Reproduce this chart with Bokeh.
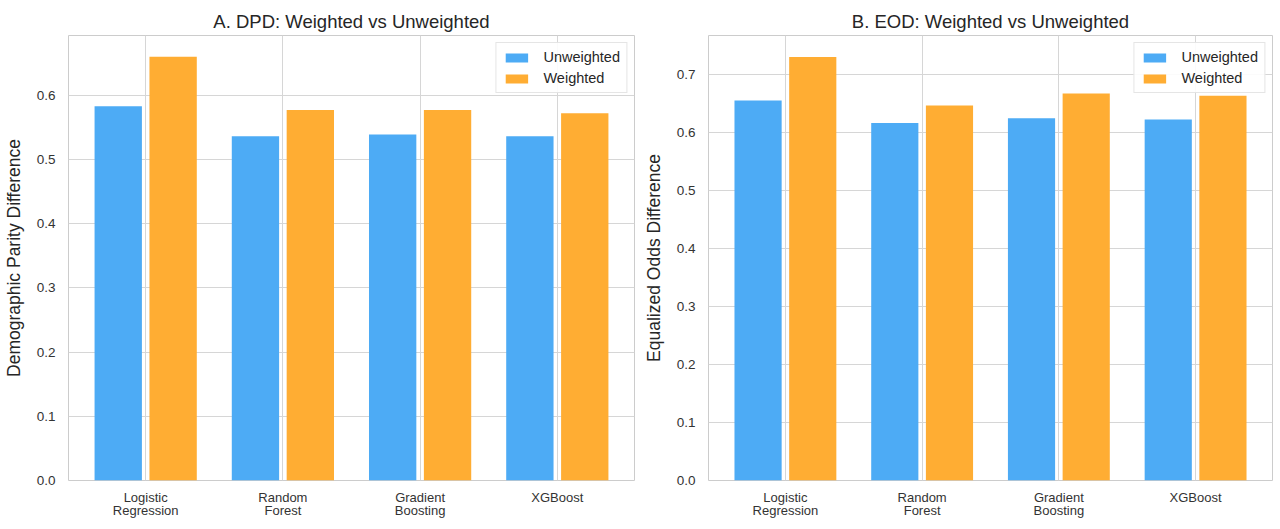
from bokeh.plotting import figure
from bokeh.layouts import row
from bokeh.models import Range1d, FixedTicker, ColumnDataSource, Legend, LegendItem
from bokeh.transform import dodge
from bokeh.embed import file_html
from bokeh.resources import INLINE

models = ["Logistic\nRegression", "Random\nForest", "Gradient\nBoosting", "XGBoost"]
dpd_unweighted = [0.583, 0.536, 0.539, 0.536]
dpd_weighted = [0.660, 0.577, 0.577, 0.572]
eod_unweighted = [0.656, 0.617, 0.625, 0.623]
eod_weighted = [0.731, 0.647, 0.668, 0.664]

BLUE = "#4DABF5"
ORANGE = "#FFAD33"
FONT = "Liberation Sans"


def make_panel(title, ylabel, unw, w, ymax, yticks, border_left, border_right, width):
    p = figure(width=width, height=529, output_backend="svg", toolbar_location=None,
               x_range=Range1d(-0.5625, 3.5625), y_range=Range1d(0, ymax),
               min_border_left=border_left, min_border_right=border_right,
               min_border_top=35, min_border_bottom=49)
    src = ColumnDataSource(dict(x=list(range(len(models))), unw=unw, w=w))
    r1 = p.vbar(x=dodge("x", -0.2, range=p.x_range), top="unw", width=0.345, bottom=0,
                source=src, fill_color=BLUE, line_color=None)
    r2 = p.vbar(x=dodge("x", 0.2, range=p.x_range), top="w", width=0.345, bottom=0,
                source=src, fill_color=ORANGE, line_color=None)

    p.title.text = title
    p.title.align = "center"
    p.title.text_font = FONT
    p.title.text_font_size = "18.5px"
    p.title.text_font_style = "normal"
    p.title.text_color = "#262626"
    p.title.standoff = 8

    p.xaxis.ticker = FixedTicker(ticks=list(range(len(models))))
    p.xaxis.major_label_overrides = {i: m for i, m in enumerate(models)}
    p.xaxis.major_label_text_font = FONT
    p.xaxis.major_label_text_font_size = "13px"
    p.xaxis.major_label_text_line_height = 0.9
    p.xaxis.major_label_text_color = "#333333"
    p.xaxis.major_label_standoff = 3

    p.yaxis.ticker = FixedTicker(ticks=yticks)
    p.yaxis.major_label_overrides = {t: f"{t:.1f}" for t in yticks}
    p.yaxis.major_label_text_font = FONT
    p.yaxis.major_label_text_font_size = "13.5px"
    p.yaxis.major_label_text_color = "#333333"
    p.yaxis.major_label_standoff = 7
    p.yaxis.axis_label = ylabel
    p.yaxis.axis_label_text_font = FONT
    p.yaxis.axis_label_text_font_size = "17.5px"
    p.yaxis.axis_label_text_font_style = "normal"
    p.yaxis.axis_label_text_color = "#262626"
    p.yaxis.axis_label_standoff = 10

    for ax in (p.xaxis, p.yaxis):
        ax.axis_line_color = None
        ax.major_tick_line_color = None
        ax.minor_tick_line_color = None

    p.xgrid.grid_line_color = "#d6d6d6"
    p.ygrid.grid_line_color = "#d6d6d6"
    p.outline_line_color = "#cccccc"
    p.outline_line_width = 1

    legend = Legend(items=[LegendItem(label="Unweighted", renderers=[r1]),
                           LegendItem(label="Weighted", renderers=[r2])],
                    location="top_right")
    legend.label_text_font = FONT
    legend.label_text_font_size = "14.5px"
    legend.label_text_color = "#262626"
    legend.glyph_width = 28
    legend.glyph_height = 11
    legend.label_height = 14
    legend.label_standoff = 13
    legend.spacing = 5
    legend.padding = 6
    legend.margin = 7
    legend.border_line_color = "#cccccc"
    legend.background_fill_alpha = 0.9
    p.add_layout(legend)
    return p


ticks_a = [0.0, 0.1, 0.2, 0.3, 0.4, 0.5, 0.6]
ticks_b = [0.0, 0.1, 0.2, 0.3, 0.4, 0.5, 0.6, 0.7]
pa = make_panel("A. DPD: Weighted vs Unweighted", "Demographic Parity Difference",
                dpd_unweighted, dpd_weighted, 0.693, ticks_a, 66, 6, 640)
pb = make_panel("B. EOD: Weighted vs Unweighted", "Equalized Odds Difference",
                eod_unweighted, eod_weighted, 0.768, ticks_b, 66, 8, 640)

layout = row(pa, pb)
open("out.html", "w").write(file_html(layout, INLINE))
